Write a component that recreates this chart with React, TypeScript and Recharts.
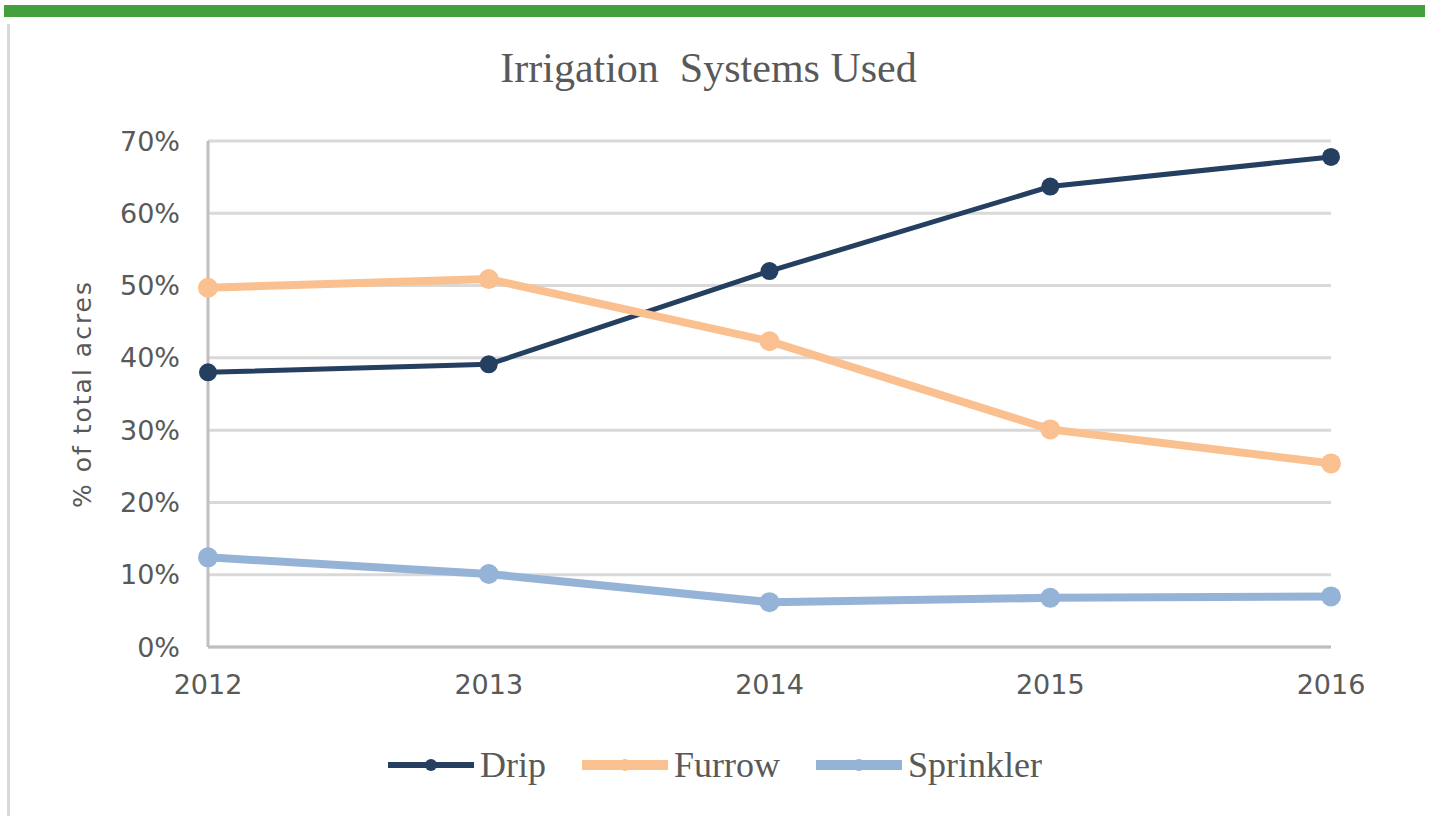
import { CartesianGrid, Line, LineChart, XAxis, YAxis } from "recharts"

const years = ["2012", "2013", "2014", "2015", "2016"]
const drip = [38.0, 39.1, 52.0, 63.7, 67.8]
const furrow = [49.7, 50.9, 42.3, 30.1, 25.4]
const sprinkler = [12.4, 10.1, 6.2, 6.8, 7.0]
const yTicks = [0, 10, 20, 30, 40, 50, 60, 70]

const SERIES = [
    { key: "drip", name: "Drip", color: "#243F60", width: 5, r: 9, legendW: 6 },
    { key: "furrow", name: "Furrow", color: "#FAC090", width: 8, r: 10, legendW: 10 },
    { key: "sprinkler", name: "Sprinkler", color: "#95B3D7", width: 8, r: 10, legendW: 10 },
]

const data = years.map((year, i) => ({
    year,
    drip: drip[i],
    furrow: furrow[i],
    sprinkler: sprinkler[i],
}))

const TEXT = "#595959"
const TICK = { fill: TEXT, fontSize: 27, fontFamily: "DejaVu Sans" }

function LegendBox() {
    return (
        <div style={{ position: "absolute", left: 388, top: 744, display: "flex", alignItems: "center" }}>
            {SERIES.map((s) => (
                <div key={s.key} style={{ display: "flex", alignItems: "center", marginRight: 36 }}>
                    <svg width={86} height={20}>
                        <line x1={0} x2={86} y1={10} y2={10} stroke={s.color} strokeWidth={s.legendW} />
                        <circle cx={43} cy={10} r={6} fill={s.color} />
                    </svg>
                    <span
                        style={{
                            marginLeft: 6,
                            fontFamily: "Liberation Serif",
                            fontSize: 36,
                            color: TEXT,
                        }}
                    >
                        {s.name}
                    </span>
                </div>
            ))}
        </div>
    )
}

export default function App() {
    return (
        <div style={{ position: "absolute", left: 0, top: 0, width: 1429, height: 819, background: "#fff" }}>
            {/* green strip and left rule */}
            <div style={{ position: "absolute", left: 4, top: 5, width: 1421, height: 12, background: "#43A03C" }} />
            <div style={{ position: "absolute", left: 7, top: 24, width: 3, height: 792, background: "#d9d9d9" }} />
            <div
                style={{
                    position: "absolute",
                    left: 0,
                    width: 1429,
                    top: 44,
                    textAlign: "center",
                    fontFamily: "Liberation Serif",
                    fontSize: 42,
                    color: TEXT,
                    whiteSpace: "pre",
                }}
            >
                <span style={{ position: "relative", left: -6 }}>Irrigation  Systems Used</span>
            </div>
            <div style={{ position: "absolute", left: 0, top: 0 }}>
                <LineChart
                    width={1429}
                    height={819}
                    data={data}
                    margin={{ top: 141, right: 98, left: 68, bottom: 112 }}
                >
                    <CartesianGrid vertical={false} stroke="#d9d9d9" strokeWidth={3} />
                    <XAxis
                        dataKey="year"
                        padding={{ left: 0, right: 0 }}
                        height={60}
                        stroke="#bfbfbf"
                        strokeWidth={3}
                        tickLine={false}
                        tickSize={0}
                        tickMargin={28}
                        tick={TICK}
                    />
                    <YAxis
                        domain={[0, 70]}
                        ticks={yTicks}
                        width={140}
                        stroke="#bfbfbf"
                        strokeWidth={3}
                        tickLine={false}
                        tickSize={0}
                        tickMargin={28}
                        tick={TICK}
                        tickFormatter={(v: number) => `${v}%`}
                        label={{
                            value: "% of total acres",
                            angle: -90,
                            position: "insideLeft",
                            offset: 14,
                            style: {
                                textAnchor: "middle",
                                fill: TEXT,
                                fontSize: 25,
                                letterSpacing: 2,
                                fontFamily: "DejaVu Sans",
                            },
                        }}
                    />
                    {SERIES.map((s) => (
                        <Line
                            key={s.key}
                            type="linear"
                            dataKey={s.key}
                            name={s.name}
                            stroke={s.color}
                            strokeWidth={s.width}
                            dot={{ r: s.r, fill: s.color, stroke: "none" }}
                            activeDot={false}
                            isAnimationActive={false}
                        />
                    ))}
                </LineChart>
            </div>
            <LegendBox />
        </div>
    )
}
